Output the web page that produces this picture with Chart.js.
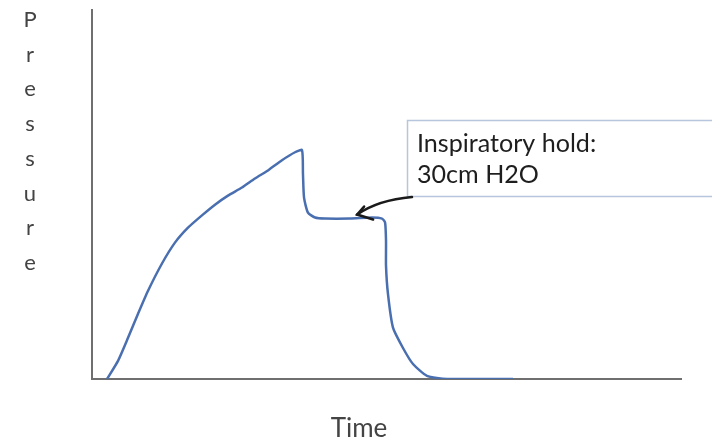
<!DOCTYPE html>
<html>
<head>
<meta charset="utf-8">
<script src="https://cdn.jsdelivr.net/npm/chart.js@4/dist/chart.umd.min.js"></script>
<style>
html,body{margin:0;padding:0;background:#fff;}
#wrap{width:712px;height:441px;position:relative;}
</style>
</head>
<body>
<div id="wrap"><canvas id="c" width="712" height="441"></canvas></div>
<script>
// Time (arbitrary units, s)
const times = [0.153,0.265,0.367,0.469,0.571,0.713,0.845,0.978,1.12,1.253,1.385,1.528,1.66,1.793,1.935,2.068,2.139,2.149,2.16,2.2,2.272,2.373,2.628,2.852,2.954,2.985,2.995,2.995,3.015,3.066,3.168,3.27,3.412,3.616,4.289];
// Pressure (cm H2O)
const pressures = [0,3.4,7.7,12.2,16.5,21.6,25.5,28.3,30.6,32.6,34.3,35.8,37.5,39.0,40.9,42.4,42.8,38.4,33.9,31.1,30.2,30.0,30.0,30.2,30.0,29.3,25.9,21.2,15.9,9.6,5.8,2.8,0.6,0,0];
const xLabel = 'Time';
const yLabel = 'Pressure';
const noteLines = ['Inspiratory hold:', '30cm H2O'];
const holdPoint = {x: 2.68, y: 30};

const points = times.map((t, i) => ({x: t, y: pressures[i]}));

const decor = {
  id: 'decor',
  afterDraw(chart) {
    const ctx = chart.ctx;
    const xs = chart.scales.x, ys = chart.scales.y;
    ctx.save();
    // y label, letters stacked
    ctx.fillStyle = '#444';
    ctx.font = '22px Lato';
    ctx.textAlign = 'center';
    ctx.textBaseline = 'middle';
    [...yLabel].forEach((ch, i) => ctx.fillText(ch, 30, 20 + i * 34.7));
    // x label
    ctx.font = '26px Lato';
    ctx.textBaseline = 'alphabetic';
    ctx.fillText(xLabel, 359, 437);
    // annotation box
    ctx.fillStyle = '#fff';
    ctx.fillRect(407, 120, 310, 77);
    ctx.strokeStyle = '#b7c6dc';
    ctx.lineWidth = 1.5;
    ctx.strokeRect(407.5, 120.5, 310, 76);
    ctx.fillStyle = '#1e1e1e';
    ctx.textAlign = 'left';
    ctx.font = '22px Lato';
    const w = ctx.measureText(noteLines[0]).width;
    const fs = 22 * 179 / w;
    ctx.font = fs.toFixed(1) + 'px Lato';
    ctx.fillText(noteLines[0], 417, 152);
    ctx.fillText(noteLines[1], 417, 183);
    // arrow
    const tx = xs.getPixelForValue(holdPoint.x) + 2;
    const ty = ys.getPixelForValue(holdPoint.y) - 4;
    ctx.strokeStyle = '#1a1a1a';
    ctx.lineWidth = 2.5;
    ctx.lineCap = 'round';
    ctx.beginPath();
    ctx.moveTo(412, 197);
    ctx.quadraticCurveTo(378, 200, tx, ty);
    ctx.stroke();
    ctx.beginPath();
    ctx.moveTo(tx + 7, ty - 8);
    ctx.lineTo(tx, ty);
    ctx.lineTo(tx + 16, ty + 5);
    ctx.stroke();
    ctx.restore();
  }
};

new Chart(document.getElementById('c'), {
  type: 'line',
  data: {
    datasets: [{
      data: points,
      borderColor: '#4a6fb0',
      borderWidth: 2.5,
      pointRadius: 0,
      tension: 0.2,
      fill: false
    }]
  },
  options: {
    responsive: false,
    animation: false,
    devicePixelRatio: 1,
    layout: {padding: {left: 92, top: 10, right: 31, bottom: 62}},
    plugins: {legend: {display: false}, tooltip: {enabled: false}},
    scales: {
      x: {
        type: 'linear', min: 0, max: 6,
        grid: {display: false, drawTicks: false},
        ticks: {display: false},
        border: {display: true, color: '#6f6f6f', width: 2}
      },
      y: {
        min: 0, max: 69,
        grid: {display: false, drawTicks: false},
        ticks: {display: false},
        border: {display: true, color: '#6f6f6f', width: 2}
      }
    }
  },
  plugins: [decor]
});
</script>
</body>
</html>
